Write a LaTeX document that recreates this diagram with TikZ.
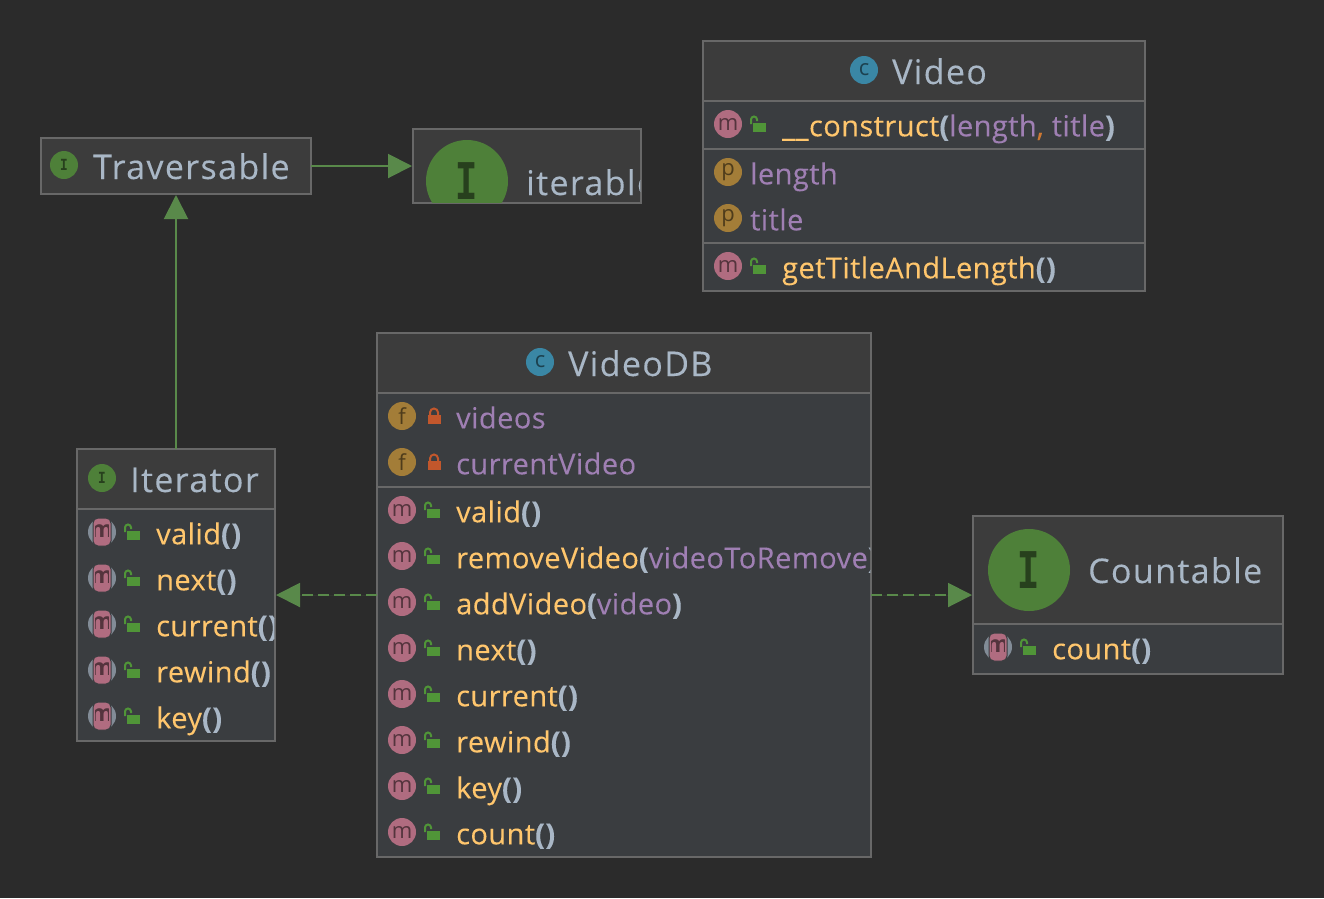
\documentclass[tikz,border=0pt]{standalone}
\usepackage{fontspec}
\setmainfont{Open Sans}
\newfontfamily\titlefont[LetterSpace=4.0,FakeBold=0.15]{Open Sans}
\newfontfamily\memberfont[LetterSpace=1.5,FakeBold=0.15]{Open Sans}
\newfontfamily\slabfont{Liberation Mono}
\usetikzlibrary{arrows.meta}
\definecolor{bgcol}{HTML}{2B2B2B}
\definecolor{headcol}{HTML}{3C3C3C}
\definecolor{bodycol}{HTML}{3A3D40}
\definecolor{linecol}{HTML}{686868}
\definecolor{namecol}{HTML}{A9B7C6}
\definecolor{methcol}{HTML}{FFC66D}
\definecolor{fieldcol}{HTML}{9F7FB3}
\definecolor{commacol}{HTML}{CC7832}
\definecolor{edgecol}{HTML}{59894A}
\definecolor{intfcol}{HTML}{4E8039}
\definecolor{clscol}{HTML}{3A87A5}
\definecolor{methbadge}{HTML}{B06C80}
\definecolor{fieldbadge}{HTML}{A37D38}
\definecolor{lockgreen}{HTML}{509538}
\definecolor{lockred}{HTML}{C2572C}
\tikzset{
  classbox/.style={draw=linecol, line width=1.2pt, fill=bodycol, inner sep=0pt, outer sep=0pt, anchor=north west},
  headpart/.style={path picture={\fill[headcol] (path picture bounding box.north west) rectangle ([yshift=-#1pt]path picture bounding box.north east);}},
  sepline/.style={draw=linecol, line width=1.8pt},
  title/.style={anchor=base west, inner sep=0pt, text=namecol, font=\titlefont\fontsize{34}{34}\selectfont},
  member/.style={anchor=base west, inner sep=0pt, text=methcol, font=\memberfont\fontsize{29}{29}\selectfont},
  badge/.style={circle, minimum size=28pt, inner sep=0pt, fill=#1, text=#1!48!black, font=\fontsize{22}{22}\selectfont},
  intfbadge/.style={circle, fill=intfcol, minimum size=28pt, inner sep=0pt, text=intfcol!50!black, font=\slabfont\bfseries\fontsize{17}{17}\selectfont},
  intfbig/.style={circle, fill=intfcol, minimum size=82pt, inner sep=0pt, text=intfcol!50!black, font=\slabfont\bfseries\fontsize{56}{56}\selectfont},
  realize/.style={-{Triangle[length=24pt,width=24pt]}, draw=edgecol, fill=edgecol, line width=2pt, shorten >=1pt},
  implement/.style={realize, dash pattern=on 11pt off 5pt}
}
\newcommand{\pn}[1]{\textcolor{namecol}{\bfseries #1}}
\newcommand{\ar}[1]{\textcolor{fieldcol}{#1}}
% lock icons, open and shut
\newcommand{\openlock}[2]{
  \draw[lockgreen, line width=2pt] (#1-8,#2+0) -- (#1-8,#2-4.5) arc (180:360:3) -- (#1-2,#2-3);
  \fill[lockgreen] (#1-6,#2-1.5) rectangle (#1+7,#2+8);
}
\newcommand{\shutlock}[2]{
  \draw[lockred, line width=2pt] (#1-4,#2-1) -- (#1-4,#2-3.5) arc (180:360:4) -- (#1+4,#2-1);
  \fill[lockred] (#1-6,#2-1) rectangle (#1+6.5,#2+8);
}
% overridden method badge
\newcommand{\overm}[3]{
  \fill[namecol!65!bodycol] (#1,#2) circle (14);
  \fill[methbadge, draw=bodycol, line width=1pt, rounded corners=5pt] (#1-9,#2-14) rectangle (#1+9,#2+14);
  \begin{scope}
    \clip (#1-6.5,#2-14) rectangle (#1+6.5,#2+14);
    \node[anchor=center, inner sep=0pt, text=methbadge!48!black, font=\bfseries\fontsize{23}{23}\selectfont] (#3) at (#1,#2-1) {m};
  \end{scope}
}
\begin{document}
\begin{tikzpicture}[x=1pt, y=-1pt]
  \useasboundingbox[fill=bgcol] (0,0) rectangle (1324,898);

  % Video
  \node[classbox, headpart=60, minimum width=442pt, minimum height=250pt] (video) at (703,41) {};
  \draw[sepline] (video.west |- 0,101) -- (video.east |- 0,101);
  \draw[sepline] (video.west |- 0,149) -- (video.east |- 0,149);
  \draw[sepline] (video.west |- 0,243) -- (video.east |- 0,243);
  \node[badge=clscol] (videoicon) at (864,70) {c};
  \node[title] (videoname) at (892,84) {Video};
  \node[badge=methbadge] (ctoricon) at (728,124) {m};
  \openlock{759}{124}
  \node[member] (ctor) at (782,136.3) {\_\_construct\pn{(}\ar{length}\textcolor{commacol}{,} \ar{title}\pn{)}};
  \node[badge=fieldbadge] (lengthicon) at (728,172) {p};
  \node[member, text=fieldcol] (lengthname) at (750,184.3) {length};
  \node[badge=fieldbadge] (titleicon) at (728,218) {p};
  \node[member, text=fieldcol] (titlename) at (750,230.3) {title};
  \node[badge=methbadge] (getticon) at (728,266) {m};
  \openlock{759}{266}
  \node[member] (gett) at (782,278.3) {getTitleAndLength\pn{()}};

  % Traversable
  \node[classbox, fill=headcol, minimum width=270pt, minimum height=56pt] (traversable) at (41,138) {};
  \node[intfbadge] (travicon) at (64,165) {\scalebox{.75}[1]{I}};
  \node[title] (travname) at (93,179) {Traversable};

  % iterable
  \node[classbox, fill=headcol, minimum width=228pt, minimum height=74pt] (iterable) at (413,129) {};
  \begin{scope}
    \clip (413.6,129.6) rectangle (640.4,202.4);
    \node[intfbig] (iterableicon) at (467,181) {\scalebox{.66}[1]{I}};
    \node[title] (iterablename) at (526,195) {iterable};
  \end{scope}

  % Iterator
  \node[classbox, headpart=60, minimum width=198pt, minimum height=292pt] (iterator) at (77,449) {};
  \draw[sepline] (iterator.west |- 0,509) -- (iterator.east |- 0,509);
  \node[intfbadge] (itericon) at (102,478) {\scalebox{.75}[1]{I}};
  \node[title] (itername) at (130,492) {Iterator};
  \foreach \ypos/\mname in {532/valid, 578/next, 624/current, 670/rewind, 716/key} {
    \overm{102}{\ypos}{iter\mname icon}
    \openlock{133}{\ypos}
  }
  \begin{scope}
    \clip (77.6,510) rectangle (274.4,740);
    \foreach \ypos/\mname in {532/valid, 578/next, 624/current, 670/rewind, 716/key} {
      \node[member] (iter\mname) at (156,\ypos+12.3) {\mname\pn{()}};
    }
  \end{scope}

  % VideoDB
  \node[classbox, headpart=60, minimum width=494pt, minimum height=524pt] (videodb) at (377,333) {};
  \draw[sepline] (videodb.west |- 0,393) -- (videodb.east |- 0,393);
  \draw[sepline] (videodb.west |- 0,487) -- (videodb.east |- 0,487);
  \node[badge=clscol] (dbicon) at (540,362) {c};
  \node[title] (dbname) at (568,376) {VideoDB};
  \foreach \ypos/\mname in {416/videos, 462/currentVideo} {
    \node[badge=fieldbadge] (db\mname icon) at (402,\ypos) {f};
    \shutlock{434}{\ypos}
    \node[member, text=fieldcol] (db\mname) at (456,\ypos+12.3) {\mname};
  }
  \foreach \ypos in {510,556,602,648,694,740,786,832} {
    \node[badge=methbadge] (dbicon\ypos) at (402,\ypos) {m};
    \openlock{433}{\ypos}
  }
  \begin{scope}
    \clip (377.6,488) rectangle (870.4,856);
    \node[member] (dbvalid) at (456,522.3) {valid\pn{()}};
    \node[member] (dbremove) at (456,568.3) {removeVideo\pn{(}\ar{videoToRemove}\pn{)}};
    \node[member] (dbadd) at (456,614.3) {addVideo\pn{(}\ar{video}\pn{)}};
    \node[member] (dbnext) at (456,660.3) {next\pn{()}};
    \node[member] (dbcurrent) at (456,706.3) {current\pn{()}};
    \node[member] (dbrewind) at (456,752.3) {rewind\pn{()}};
    \node[member] (dbkey) at (456,798.3) {key\pn{()}};
    \node[member] (dbcount) at (456,844.3) {count\pn{()}};
  \end{scope}

  % Countable
  \node[classbox, headpart=108, minimum width=310pt, minimum height=158pt] (countable) at (973,516) {};
  \draw[sepline] (countable.west |- 0,624) -- (countable.east |- 0,624);
  \node[intfbig] (countableicon) at (1029,570) {\scalebox{.66}[1]{I}};
  \node[title] (countablename) at (1088,583) {Countable};
  \overm{998}{647}{counticon}
  \openlock{1029}{647}
  \node[member] (countcall) at (1052,659.3) {count\pn{()}};

  % connectors
  \draw[realize] (iterator.north) -- (traversable.south);
  \draw[realize] (traversable.east) -- (iterable.west);
  \draw[implement] (videodb.west) -- (iterator.east);
  \draw[implement] (videodb.east) -- (countable.west);
\end{tikzpicture}
\end{document}
